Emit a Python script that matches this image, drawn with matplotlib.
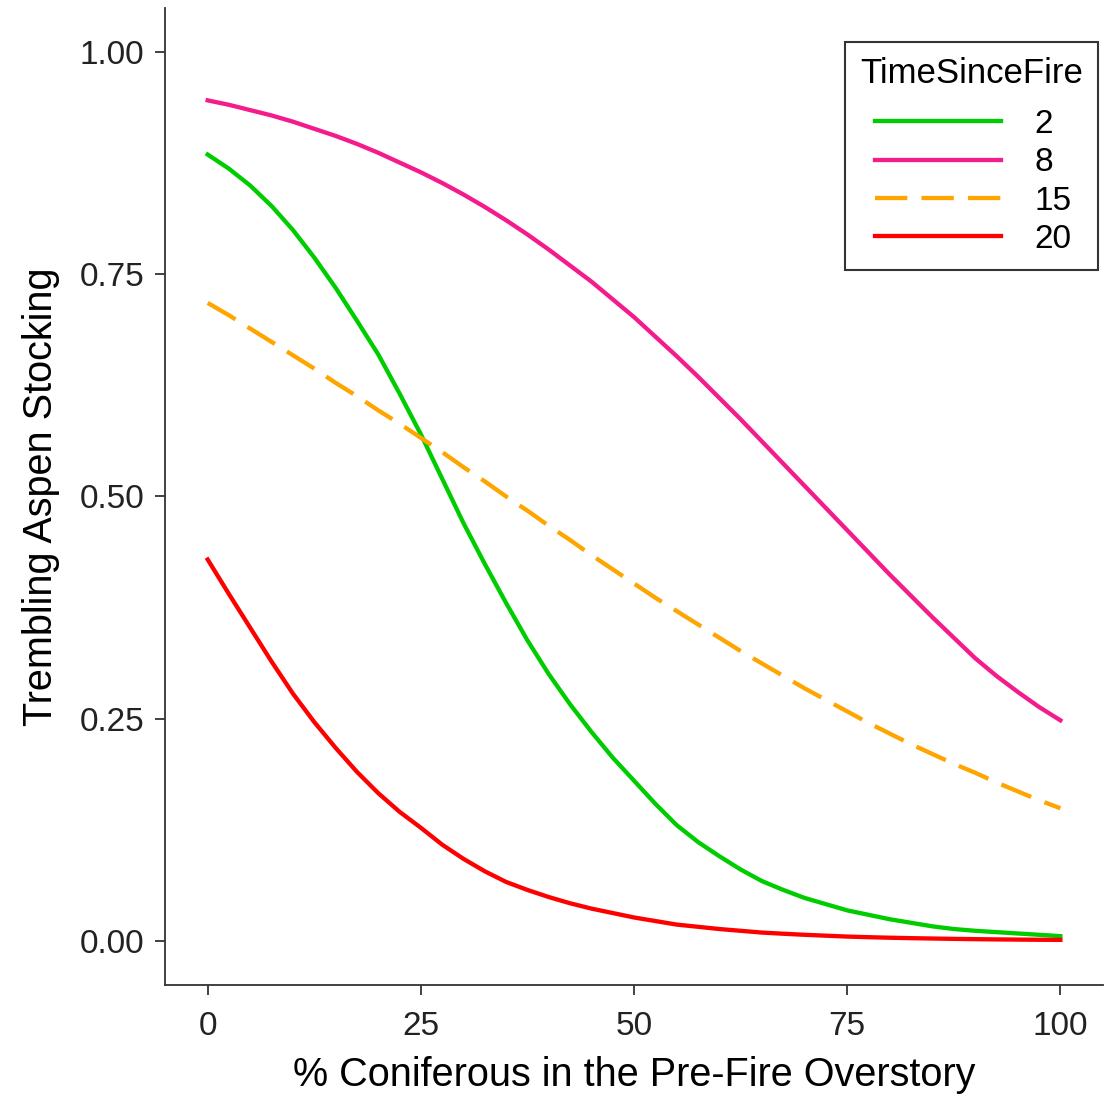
import matplotlib
matplotlib.use('Agg')
import matplotlib.pyplot as plt
from matplotlib.lines import Line2D
from matplotlib.legend_handler import HandlerLine2D

plt.rcParams['font.family'] = ['Liberation Sans', 'DejaVu Sans']

# % coniferous in the pre-fire overstory (read every 2.5 units)
conifer_pct = [0, 2.5, 5, 7.5, 10, 12.5, 15, 17.5, 20, 22.5, 25, 27.5, 30, 32.5, 35, 37.5,
               40, 42.5, 45, 47.5, 50, 52.5, 55, 57.5, 60, 62.5, 65, 67.5, 70, 72.5, 75,
               77.5, 80, 82.5, 85, 87.5, 90, 92.5, 95, 97.5, 100]

# predicted stocking, one list per TimeSinceFire
stock_2 = [0.885, 0.869, 0.850, 0.827, 0.800, 0.769, 0.735, 0.698, 0.660, 0.616, 0.570,
           0.520, 0.470, 0.424, 0.380, 0.338, 0.300, 0.266, 0.235, 0.206, 0.180, 0.154,
           0.130, 0.111, 0.095, 0.080, 0.067, 0.057, 0.048, 0.041, 0.034, 0.029, 0.024,
           0.020, 0.016, 0.013, 0.011, 0.0095, 0.008, 0.0065, 0.005]
stock_8 = [0.946, 0.941, 0.935, 0.929, 0.922, 0.914, 0.906, 0.897, 0.887, 0.876, 0.865,
           0.853, 0.840, 0.826, 0.811, 0.795, 0.778, 0.760, 0.742, 0.722, 0.702, 0.680,
           0.658, 0.635, 0.611, 0.587, 0.562, 0.537, 0.512, 0.487, 0.462, 0.437, 0.412,
           0.388, 0.364, 0.341, 0.318, 0.298, 0.280, 0.263, 0.248]
stock_15 = [0.718, 0.704, 0.689, 0.674, 0.659, 0.644, 0.628, 0.613, 0.597, 0.582, 0.566,
            0.550, 0.533, 0.517, 0.500, 0.484, 0.467, 0.451, 0.434, 0.418, 0.402, 0.386,
            0.371, 0.356, 0.341, 0.326, 0.312, 0.298, 0.284, 0.271, 0.258, 0.245, 0.233,
            0.221, 0.210, 0.199, 0.189, 0.178, 0.168, 0.158, 0.149]
stock_20 = [0.429, 0.390, 0.352, 0.314, 0.278, 0.246, 0.217, 0.190, 0.166, 0.145, 0.127,
            0.108, 0.092, 0.078, 0.066, 0.057, 0.049, 0.042, 0.036, 0.031, 0.026, 0.022,
            0.018, 0.0155, 0.013, 0.011, 0.009, 0.0077, 0.0065, 0.0055, 0.0045, 0.0038,
            0.0032, 0.0027, 0.0023, 0.0019, 0.0016, 0.0013, 0.0011, 0.0009, 0.0008]

labels = ['2', '8', '15', '20']
colors = ['#00CD00', '#F41C8C', '#FFA500', '#FF0000']

fig = plt.figure(figsize=(11.19, 10.96), dpi=100)
ax = fig.add_axes([0.1475, 0.1013, 0.8382, 0.8914])

ax.plot(conifer_pct, stock_2, color=colors[0], lw=3.1, label=labels[0])
ax.plot(conifer_pct, stock_8, color=colors[1], lw=3.1, label=labels[1])
ax.plot(conifer_pct, stock_15, color=colors[2], lw=3.1, label=labels[2], dashes=(7.5, 3.3))
ax.plot(conifer_pct, stock_20, color=colors[3], lw=3.1, label=labels[3])

ax.set_xlim(-5, 105)
ax.set_ylim(-0.05, 1.05)
ax.set_xticks([0, 25, 50, 75, 100])
ax.set_yticks([0, 0.25, 0.5, 0.75, 1.0])
ax.set_yticklabels(['0.00', '0.25', '0.50', '0.75', '1.00'])

for s in ['top', 'right']:
    ax.spines[s].set_visible(False)
for s in ['left', 'bottom']:
    ax.spines[s].set_color('#333333')
    ax.spines[s].set_linewidth(1.3)
ax.tick_params(length=7, width=1.3, color='#333333', labelsize=24, labelcolor='#222222')
ax.tick_params(axis='x', pad=12)
ax.tick_params(axis='y', pad=8)

ax.set_xlabel('% Coniferous in the Pre-Fire Overstory', fontsize=28.5, labelpad=10)
ax.set_ylabel('Trembling Aspen Stocking', fontsize=28.5, labelpad=14)

# legend keys indented a little from the title, like the ggplot original
leg = ax.legend(title='TimeSinceFire', loc='upper right', bbox_to_anchor=(0.995, 0.965),
                borderaxespad=0, fontsize=24, title_fontsize=25, frameon=True, fancybox=False,
                handlelength=4.23, handletextpad=1.0, labelspacing=0.22, borderpad=0.45,
                handler_map={Line2D: HandlerLine2D(xpad=0.45)})
leg.get_frame().set_edgecolor('black')
leg.get_frame().set_linewidth(1.5)
leg._legend_box.align = 'left'
leg._legend_box.sep = 13.5

fig.savefig('out.png', dpi=100)
